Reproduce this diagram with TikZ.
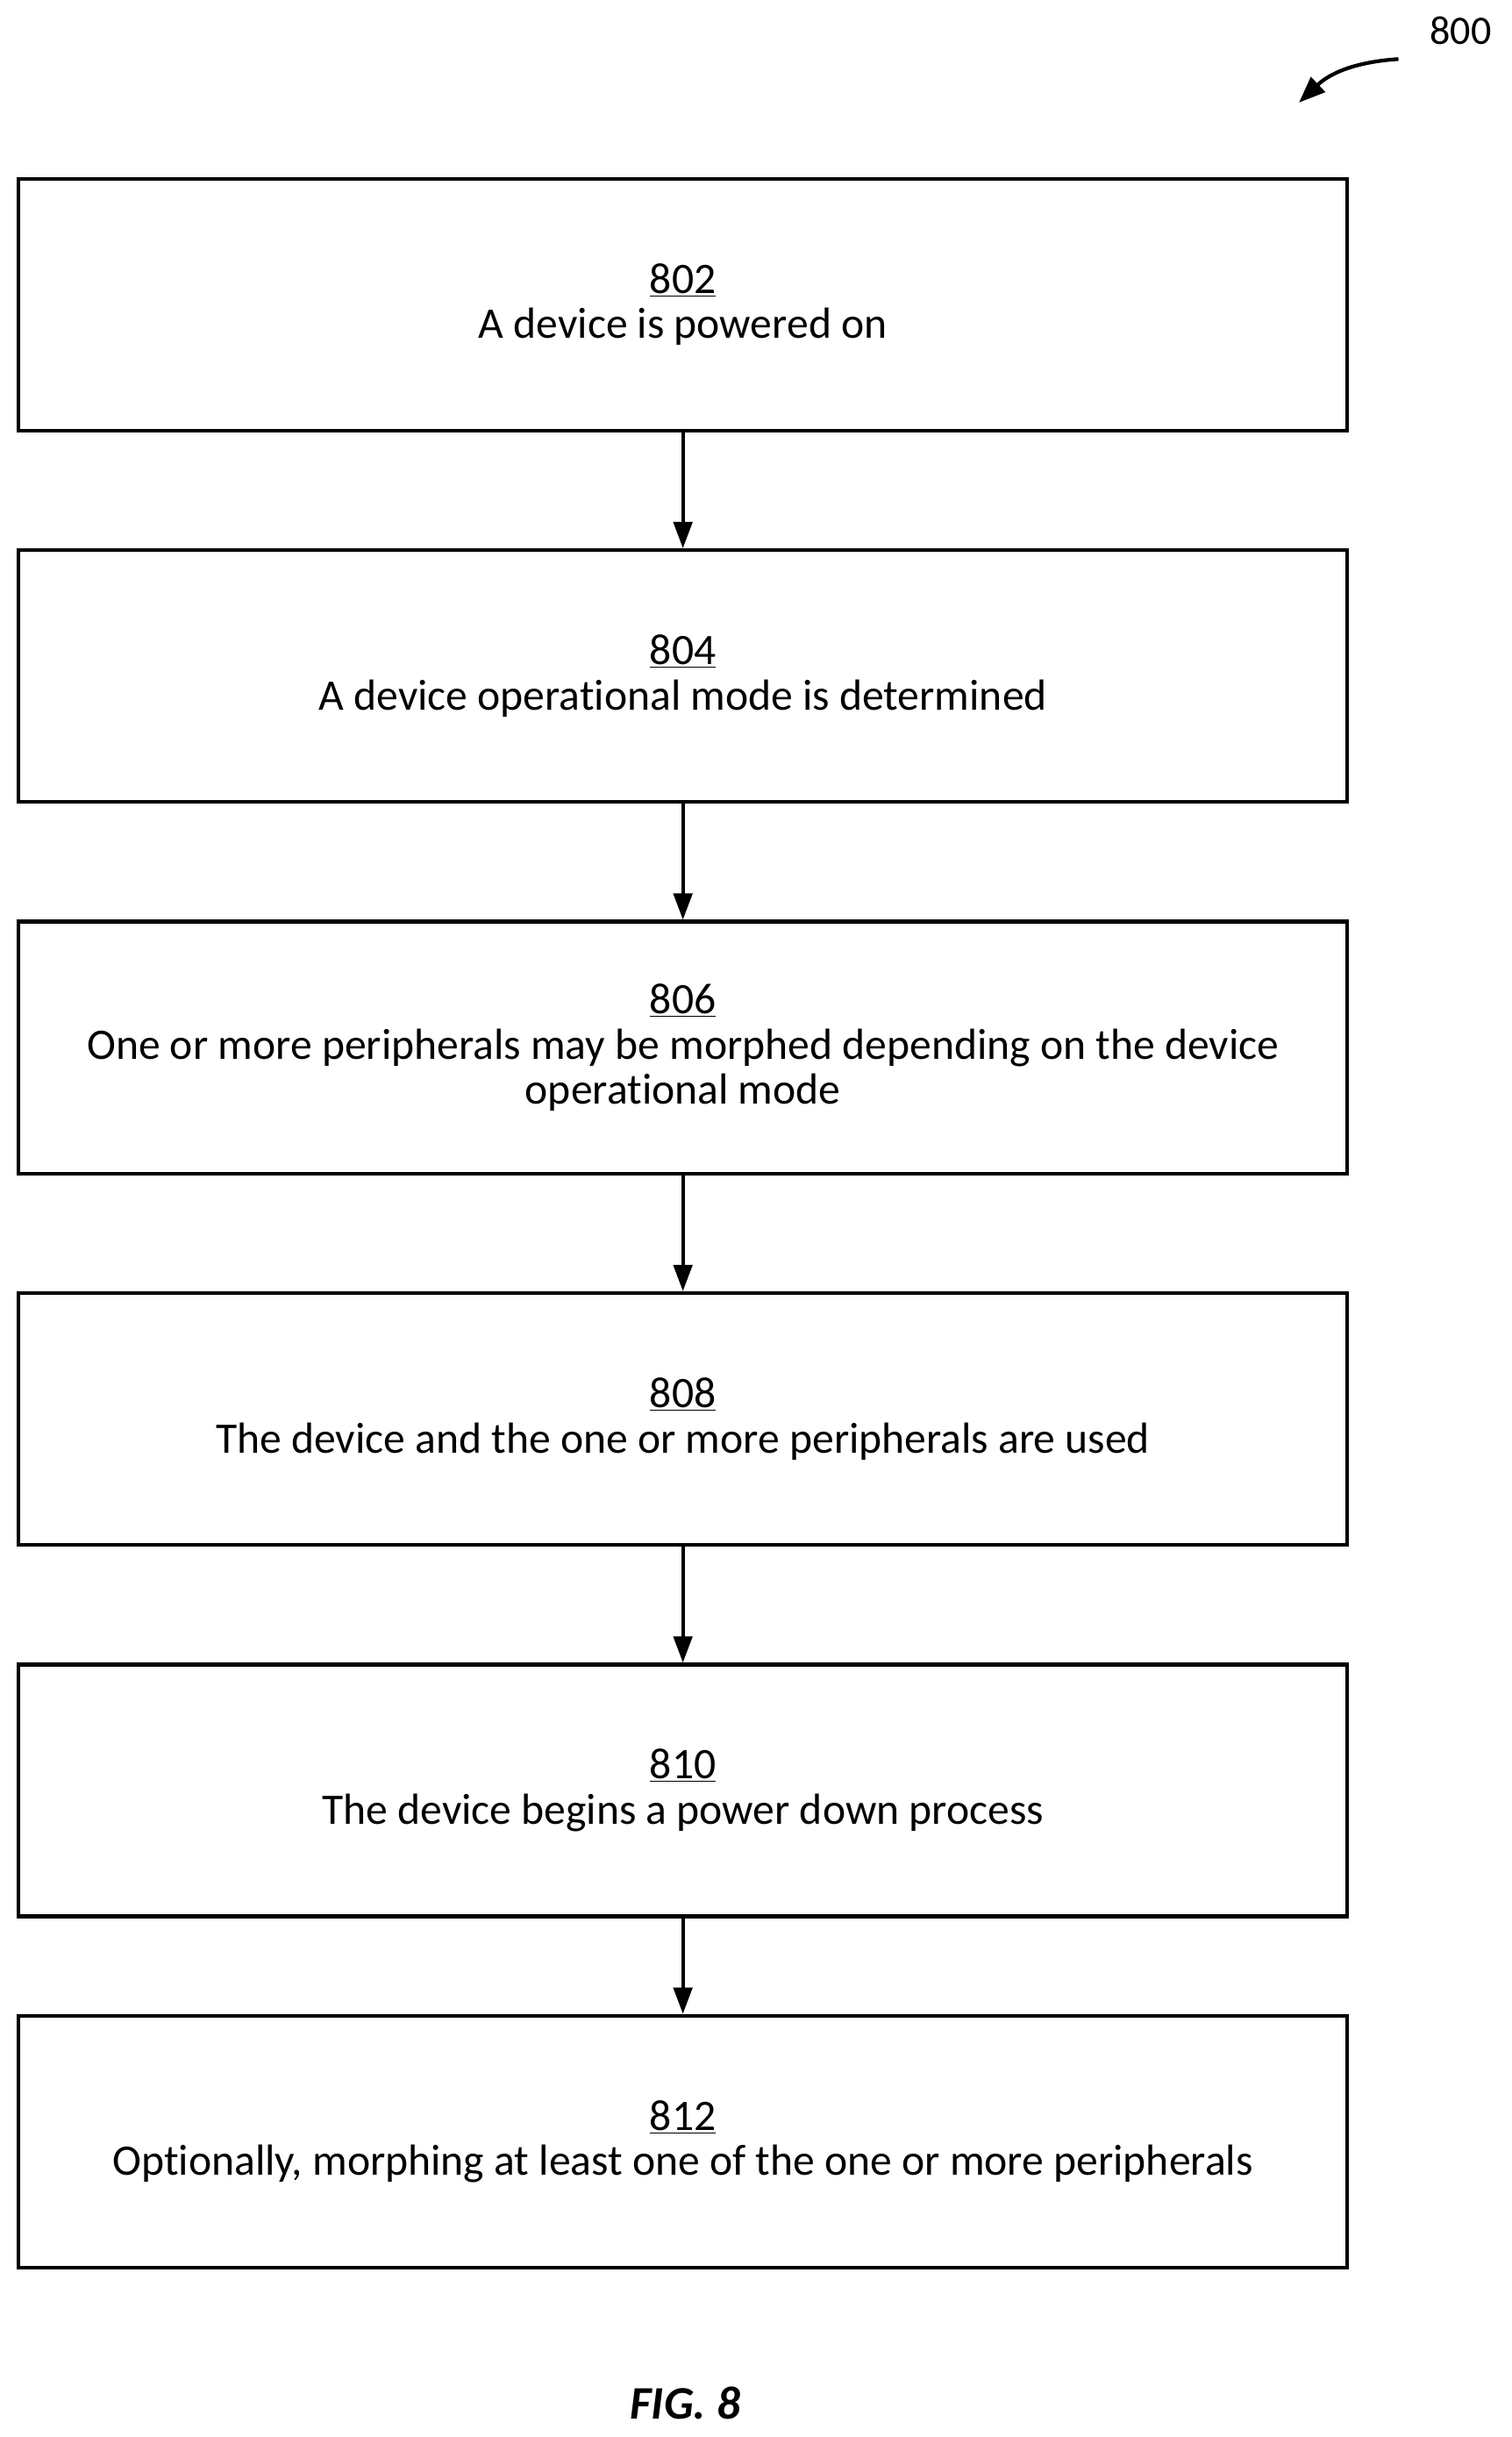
\documentclass[tikz,border=0pt]{standalone}
\usepackage{fontspec}
\setmainfont[Ligatures={NoCommon}]{Carlito}
\usetikzlibrary{arrows.meta}
\begin{document}
\begin{tikzpicture}[x=1pt,y=-1pt,
 box/.style={draw,line width=2.4pt,minimum width=855pt,minimum height=162pt,align=center,font=\fontsize{28}{29}\selectfont,inner sep=0pt},
 arr/.style={line width=2.4pt,-{Triangle[length=17pt,width=12pt]}}]
\useasboundingbox (0,0) rectangle (973,1568);
\node[box] (b1) at (439.5,196) {\underline{802}\\A device is powered on};
\node[box] (b2) at (439.5,435) {\underline{804}\\A device operational mode is determined};
\node[box] (b3) at (439.5,674) {\underline{806}\\One or more peripherals may be morphed depending on the device\\operational mode};
\node[box] (b4) at (439.5,913) {\underline{808}\\The device and the one or more peripherals are used};
\node[box] (b5) at (439.5,1152) {\underline{810}\\The device begins a power down process};
\node[box] (b6) at (439.5,1378) {\underline{812}\\Optionally, morphing at least one of the one or more peripherals};
\draw[arr] (b1) -- (b2);
\draw[arr] (b2) -- (b3);
\draw[arr] (b3) -- (b4);
\draw[arr] (b4) -- (b5);
\draw[arr] (b5) -- (b6);
\node[font=\fontsize{26}{29}\selectfont] (n800) at (940,20) {800};
\coordinate (a0) at (900,38);
\coordinate (a1) at (836,66);
\draw[line width=2.4pt,-{Triangle[length=17pt,width=13pt]}] (a0) .. controls (870,40) and (855,48) .. (a1);
\node[font=\fontsize{30}{32}\selectfont\bfseries\itshape] (fig) at (441,1546) {FIG. 8};
\end{tikzpicture}
\end{document}
